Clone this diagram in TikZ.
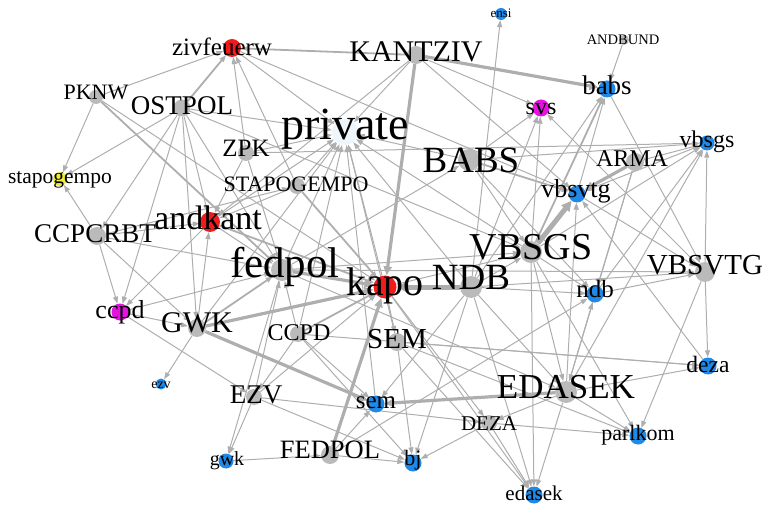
\documentclass[tikz,border=0pt]{standalone}
\usepackage{fontspec}
\setmainfont{Liberation Serif}
\usetikzlibrary{arrows.meta}
\pgfdeclarelayer{bg}
\pgfsetlayers{bg,main}
\definecolor{edgec}{HTML}{AEAEAE}
\definecolor{ngrey}{HTML}{BABABA}
\definecolor{nred}{HTML}{F21B1B}
\definecolor{nblue}{HTML}{2088E6}
\definecolor{nmag}{HTML}{E513E0}
\definecolor{nyel}{HTML}{EDED3A}
\definecolor{npriv}{HTML}{EEF5FB}
\tikzset{
  nd/.style={circle,inner sep=0pt,minimum size=#1},
  gn/.style={nd=#1,fill=ngrey},
  rn/.style={nd=#1,fill=nred},
  bn/.style={nd=#1,fill=nblue},
  mn/.style={nd=#1,fill=nmag},
  lab/.style={anchor=base,inner sep=0pt,text=black,font=\fontsize{#1}{#1}\selectfont},
  e/.style={draw=edgec,line width=1pt,-{Triangle[length=7pt,width=5pt]}},
  em/.style={e,line width=1.8pt},
  eT/.style={draw=edgec,line width=3.2pt,-{Triangle[length=9pt,width=8pt]}},
  eX/.style={draw=edgec,line width=5pt,-{Triangle[length=10pt,width=10pt]}}
}
\begin{document}
\begin{tikzpicture}[x=1pt,y=-1pt]
\useasboundingbox (0,0) rectangle (766,505);
% circles
\node[rn=18pt] (ziv) at (232,48) {};
\node[gn=18pt] (KANTZIV) at (416,55) {};
\node[bn=12pt] (ensi) at (501,14) {};
\node[gn=10pt] (ANDBUND) at (624,40) {};
\node[bn=17pt] (babs) at (607,89) {};
\node[mn=17pt] (svs) at (541,108) {};
\node[bn=15pt] (vbsgs) at (707,143) {};
\node[gn=18pt] (ARMA) at (635,162) {};
\node[gn=14pt] (PKNW) at (96,97) {};
\node[gn=17pt] (OSTPOL) at (182,108) {};
\node[nd=26pt,fill=npriv] (private) at (345,132) {};
\node[gn=16pt] (ZPK) at (246,153) {};
\node[gn=22pt] (BABS) at (469,160) {};
\node[nd=14pt,fill=nyel] (stapogempo) at (60,179) {};
\node[gn=16pt] (STAPOGEMPO) at (297,186) {};
\node[bn=17pt] (vbsvtg) at (577,194) {};
\node[rn=20pt] (andkant) at (210,222) {};
\node[gn=18pt] (CCPCRBT) at (97,236) {};
\node[gn=22pt] (VBSGS) at (531,252) {};
\node[gn=22pt] (fedpol) at (282,270) {};
\node[rn=23pt] (kapo) at (385,287) {};
\node[gn=22pt] (NDB) at (471,287) {};
\node[gn=20pt] (VBSVTG) at (705,272) {};
\node[bn=17pt] (ndb) at (595,294) {};
\node[mn=17pt] (ccpd) at (120,312) {};
\node[gn=18pt] (GWK) at (197,328) {};
\node[gn=16pt] (CCPD) at (298,334) {};
\node[gn=18pt] (SEM) at (397,342) {};
\node[bn=11pt] (ezv) at (161,384) {};
\node[gn=16pt] (EZV) at (254,397) {};
\node[bn=17pt] (sem) at (376,404) {};
\node[gn=22pt] (EDASEK) at (566,392) {};
\node[bn=17pt] (deza) at (708,366) {};
\node[gn=16pt] (DEZA) at (489,423) {};
\node[bn=17pt] (parlkom) at (638,436) {};
\node[bn=15pt] (gwk) at (226,461) {};
\node[gn=18pt] (FEDPOL) at (330,455) {};
\node[bn=17pt] (bj) at (413,463) {};
\node[bn=17pt] (edasek) at (534,495) {};
% edges
\begin{pgfonlayer}{bg}
\draw[em] (KANTZIV) -- (ziv);
\draw[e] (PKNW) -- (ziv);
\draw[em] (OSTPOL) -- (ziv);
\draw[e] (ZPK) -- (ziv);
\draw[e] (STAPOGEMPO) -- (ziv);
\draw[e] (ziv) -- (vbsvtg);
\draw[eT] (KANTZIV) -- (babs);
\draw[e] (KANTZIV) -- (svs);
\draw[eT] (KANTZIV) -- (kapo);
\draw[e] (KANTZIV) -- (private);
\draw[e] (KANTZIV) -- (andkant);
\draw[e] (KANTZIV) -- (vbsvtg);
\draw[e] (NDB) -- (ensi);
\draw[e] (ANDBUND) -- (babs);
\draw[em] (VBSGS) -- (babs);
\draw[e] (vbsvtg) -- (babs);
\draw[e] (babs) -- (VBSVTG);
\draw[e] (NDB) -- (babs);
\draw[e] (BABS) -- (svs);
\draw[e] (VBSGS) -- (svs);
\draw[e] (VBSVTG) -- (svs);
\draw[e] (NDB) -- (svs);
\draw[e] (BABS) -- (vbsgs);
\draw[e] (ARMA) -- (vbsgs);
\draw[e] (ZPK) -- (vbsgs);
\draw[e] (VBSVTG) -- (vbsgs);
\draw[e] (ndb) -- (vbsgs);
\draw[e] (EDASEK) -- (vbsgs);
\draw[e] (vbsgs) -- (vbsvtg);
\draw[eT] (ARMA) -- (vbsvtg);
\draw[e] (ARMA) -- (ndb);
\draw[e] (ARMA) -- (EDASEK);
\draw[em] (BABS) -- (vbsvtg);
\draw[eX] (VBSGS) -- (vbsvtg);
\draw[e] (EDASEK) -- (vbsvtg);
\draw[e] (vbsvtg) -- (VBSVTG);
\draw[e] (BABS) -- (private);
\draw[e] (fedpol) -- (BABS);
\draw[e] (BABS) -- (ndb);
\draw[e] (BABS) -- (VBSGS);
\draw[e] (VBSGS) -- (vbsgs);
\draw[e] (VBSVTG) -- (deza);
\draw[e] (EDASEK) -- (deza);
\draw[e] (SEM) -- (deza);
\draw[e] (CCPD) -- (deza);
\draw[e] (deza) -- (vbsvtg);
\draw[e] (EDASEK) -- (parlkom);
\draw[e] (DEZA) -- (parlkom);
\draw[e] (VBSVTG) -- (parlkom);
\draw[e] (VBSGS) -- (parlkom);
\draw[e] (SEM) -- (parlkom);
\draw[e] (VBSGS) -- (edasek);
\draw[e] (EDASEK) -- (edasek);
\draw[e] (SEM) -- (edasek);
\draw[e] (NDB) -- (edasek);
\draw[e] (DEZA) -- (edasek);
\draw[e] (kapo) -- (edasek);
\draw[eT] (EDASEK) -- (sem);
\draw[e] (EDASEK) -- (ndb);
\draw[e] (NDB) -- (EDASEK);
\draw[e] (fedpol) -- (EDASEK);
\draw[e] (EDASEK) -- (DEZA);
\draw[eT] (GWK) -- (sem);
\draw[e] (FEDPOL) -- (sem);
\draw[e] (NDB) -- (sem);
\draw[e] (CCPD) -- (sem);
\draw[e] (EZV) -- (DEZA);
\draw[e] (SEM) -- (bj);
\draw[e] (DEZA) -- (bj);
\draw[e] (NDB) -- (bj);
\draw[e] (EZV) -- (bj);
\draw[e] (FEDPOL) -- (bj);
\draw[e] (CCPD) -- (bj);
\draw[eT] (FEDPOL) -- (kapo);
\draw[e] (FEDPOL) -- (ndb);
\draw[e] (gwk) -- (FEDPOL);
\draw[e] (EZV) -- (gwk);
\draw[e] (fedpol) -- (gwk);
\draw[e] (CCPD) -- (EZV);
\draw[e] (EZV) -- (kapo);
\draw[e] (ccpd) -- (EZV);
\draw[e] (GWK) -- (ezv);
\draw[e] (CCPCRBT) -- (ccpd);
\draw[e] (OSTPOL) -- (ccpd);
\draw[e] (andkant) -- (ccpd);
\draw[e] (ccpd) -- (GWK);
\draw[e] (ccpd) -- (fedpol);
\draw[e] (CCPCRBT) -- (stapogempo);
\draw[e] (OSTPOL) -- (CCPCRBT);
\draw[e] (CCPCRBT) -- (andkant);
\draw[e] (CCPCRBT) -- (fedpol);
\draw[e] (CCPCRBT) -- (GWK);
\draw[e] (CCPCRBT) -- (STAPOGEMPO);
\draw[e] (PKNW) -- (stapogempo);
\draw[e] (OSTPOL) -- (stapogempo);
\draw[e] (GWK) -- (andkant);
\draw[e] (OSTPOL) -- (andkant);
\draw[e] (andkant) -- (private);
\draw[e] (ZPK) -- (andkant);
\draw[e] (andkant) -- (fedpol);
\draw[em] (andkant) -- (kapo);
\draw[e] (ZPK) -- (private);
\draw[e] (ZPK) -- (fedpol);
\draw[em] (STAPOGEMPO) -- (kapo);
\draw[e] (STAPOGEMPO) -- (private);
\draw[e] (STAPOGEMPO) -- (andkant);
\draw[e] (OSTPOL) -- (private);
\draw[e] (ziv) -- (private);
\draw[e] (fedpol) -- (private);
\draw[e] (kapo) -- (private);
\draw[e] (CCPD) -- (private);
\draw[e] (sem) -- (private);
\draw[e] (SEM) -- (private);
\draw[e] (NDB) -- (private);
\draw[e] (VBSGS) -- (private);
\draw[e] (GWK) -- (private);
\draw[eX] (NDB) -- (kapo);
\draw[eT] (fedpol) -- (kapo);
\draw[eT] (GWK) -- (kapo);
\draw[em] (GWK) -- (fedpol);
\draw[e] (kapo) -- (VBSGS);
\draw[e] (fedpol) -- (VBSGS);
\draw[e] (fedpol) -- (VBSVTG);
\draw[e] (NDB) -- (VBSVTG);
\draw[e] (NDB) -- (VBSGS);
\draw[e] (NDB) -- (ndb);
\draw[e] (VBSGS) -- (ndb);
\draw[e] (ndb) -- (VBSVTG);
\draw[e] (kapo) -- (SEM);
\draw[e] (kapo) -- (DEZA);
\draw[e] (CCPD) -- (fedpol);
\draw[em] (CCPD) -- (kapo);
\draw[em] (PKNW) -- (fedpol);
\draw[e] (OSTPOL) -- (fedpol);
\draw[e] (OSTPOL) -- (GWK);
\draw[e] (OSTPOL) -- (VBSGS);
\draw[e] (VBSGS) -- (EDASEK);
\draw[e] (EZV) -- (fedpol);
\draw[e] (PKNW) -- (kapo);
\end{pgfonlayer}
% labels
\node[lab=25] (l-ziv) at (222,56) {zivfeuerw};
\node[lab=30] (l-KANTZIV) at (416,62) {KANTZIV};
\node[lab=13] (l-ensi) at (501,18) {ensi};
\node[lab=14.5] (l-ANDBUND) at (623,45) {ANDBUND};
\node[lab=27] (l-babs) at (607,95) {babs};
\node[lab=24] (l-svs) at (541,115) {svs};
\node[lab=24] (l-vbsgs) at (707,148) {vbsgs};
\node[lab=24] (l-ARMA) at (632,167) {ARMA};
\node[lab=22] (l-PKNW) at (96,100) {PKNW};
\node[lab=27] (l-OSTPOL) at (182,115) {OSTPOL};
\node[lab=46] (l-private) at (345,140) {private};
\node[lab=25] (l-ZPK) at (246,157) {ZPK};
\node[lab=37] (l-BABS) at (471,173) {BABS};
\node[lab=21.5] (l-stapogempo) at (60,184) {stapogempo};
\node[lab=22] (l-STAPOGEMPO) at (296,192) {STAPOGEMPO};
\node[lab=26] (l-vbsvtg) at (576,198) {vbsvtg};
\node[lab=34] (l-andkant) at (208,230) {andkant};
\node[lab=27] (l-CCPCRBT) at (95,243) {CCPCRBT};
\node[lab=38] (l-VBSGS) at (531,259) {VBSGS};
\node[lab=43] (l-fedpol) at (285,278) {fedpol};
\node[lab=40] (l-kapo) at (385,295) {kapo};
\node[lab=37] (l-NDB) at (471,290) {NDB};
\node[lab=29] (l-VBSVTG) at (705,275) {VBSVTG};
\node[lab=25] (l-ndb) at (595,298) {ndb};
\node[lab=26] (l-ccpd) at (120,318) {ccpd};
\node[lab=30] (l-GWK) at (197,332) {GWK};
\node[lab=24] (l-CCPD) at (299,340) {CCPD};
\node[lab=29] (l-SEM) at (397,348) {SEM};
\node[lab=14] (l-ezv) at (161,388) {ezv};
\node[lab=27] (l-EZV) at (256,403) {EZV};
\node[lab=25] (l-sem) at (376,408) {sem};
\node[lab=35] (l-EDASEK) at (566,398) {EDASEK};
\node[lab=23.5] (l-deza) at (708,372) {deza};
\node[lab=21] (l-DEZA) at (489,430) {DEZA};
\node[lab=22] (l-parlkom) at (638,440) {parlkom};
\node[lab=20] (l-gwk) at (227,465) {gwk};
\node[lab=26.5] (l-FEDPOL) at (330,458) {FEDPOL};
\node[lab=22] (l-bj) at (413,465) {bj};
\node[lab=21] (l-edasek) at (534,500) {edasek};
\end{tikzpicture}
\end{document}
